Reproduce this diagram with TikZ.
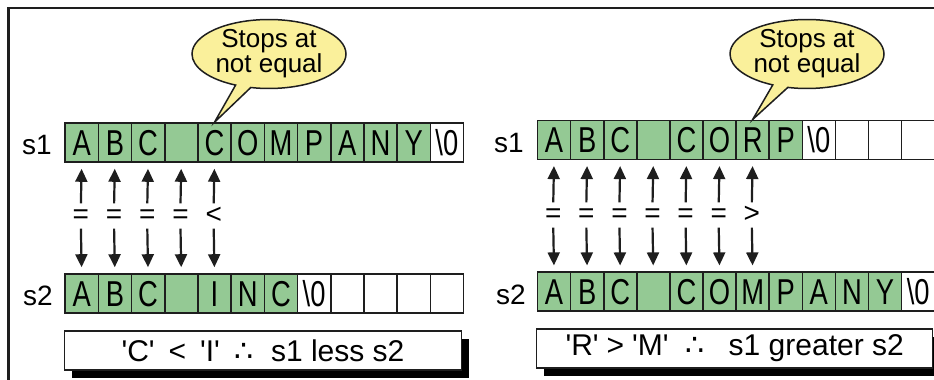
\documentclass[tikz,border=0pt]{standalone}
\usepackage{fontspec}
\setmainfont{Liberation Sans}
\newfontfamily\cellfont[FakeStretch=0.76]{Liberation Sans}
\newfontfamily\symfont{DejaVu Sans}
\usetikzlibrary{shapes.callouts,shadows,arrows.meta,calc}
\definecolor{cellgreen}{RGB}{148,201,148}
\definecolor{bubbleyellow}{RGB}{250,240,155}
\definecolor{ink}{RGB}{30,30,30}
\newcommand\nulchar{\textbackslash 0}
\newcommand\cellblank{}
\newcommand\q{\textquotesingle}
\begin{document}
\begin{tikzpicture}[x=1pt,y=-1pt,
  cell/.style={draw=ink,line width=1.6pt,minimum width=33.2pt,minimum height=39pt,
    inner sep=0pt,text height=25.5pt,text depth=0pt,anchor=west,
    font=\cellfont\fontsize{36}{36}\selectfont},
  full/.style={cell,fill=cellgreen},
  empty/.style={cell,fill=white},
  lbl/.style={inner sep=0pt,font=\fontsize{28}{28}\selectfont},
  cmp/.style={inner sep=0pt,minimum height=25pt,text height=14pt,text depth=0pt,
    font=\fontsize{28}{28}\selectfont},
  arr/.style={draw=ink,line width=2.2pt,-{Triangle[length=13pt,width=12pt]},shorten >=6pt},
  bubble/.style={ellipse callout,draw=ink,line width=1.5pt,fill=bubbleyellow,
    minimum width=154pt,minimum height=68pt,inner sep=0pt,align=center,
    callout pointer arc=12,font=\fontsize{26}{24}\selectfont},
  resultbox/.style={draw=ink,line width=1.5pt,fill=white,minimum height=39pt,inner sep=0pt,
    font=\fontsize{30}{30}\selectfont,
    drop shadow={shadow xshift=7.5pt,shadow yshift=-7.5pt,fill=black,opacity=1}}
]
\useasboundingbox (0,0) rectangle (934,380);
\fill[white] (0,0) rectangle (934,380);

% outer frame
\coordinate (fbl) at (8.7,381);
\coordinate (ftl) at (8.7,8);
\coordinate (ftr) at (935,8);
\draw[ink,line width=2.5pt] (fbl) -- (ftl) -- (ftr);

% ---------------- left panel ----------------
\node[lbl] (Ls1) at (37,145) {s1};
\node[lbl] (Ls2) at (38,295.5) {s2};
\foreach \t/\s [count=\i] in {A/full,B/full,C/full,\cellblank/full,C/full,O/full,M/full,P/full,A/full,N/full,Y/full,\nulchar/empty}
  \node[\s] (L1-\i) at ({64.3+33.2*(\i-1)},142.5) {\t};
\foreach \t/\s [count=\i] in {A/full,B/full,C/full,\cellblank/full,I/full,N/full,C/full,\nulchar/empty,\cellblank/empty,\cellblank/empty,\cellblank/empty,\cellblank/empty}
  \node[\s] (L2-\i) at ({64.3+33.2*(\i-1)},293.5) {\t};
\foreach \c [count=\i] in {=,=,=,=,<}{
  \node[cmp] (Lc\i) at ({64.3+33.2*(\i-0.5)},216) {\c};
  \draw[arr] (Lc\i.north) -- (L1-\i.south);
  \draw[arr] (Lc\i.south) -- (L2-\i.north);
}
\node[bubble,callout absolute pointer={(L1-5.north)}] (Lcall) at (269,54) {Stops at\\not equal};
\node[resultbox,minimum width=397.4pt] (Lres) at (263,350.5)
  {\q C\q\hspace{14pt}<\hspace{14pt}\q I\q\hspace{15pt}{\symfont ∴}\hspace{17pt}s1 less s2};

% ---------------- right panel ----------------
\node[lbl] (Rs1) at (509,143) {s1};
\node[lbl] (Rs2) at (511,295) {s2};
\foreach \t/\s [count=\i] in {A/full,B/full,C/full,\cellblank/full,C/full,O/full,R/full,P/full,\nulchar/empty,\cellblank/empty,\cellblank/empty,\cellblank/empty}
  \node[\s,minimum width=33.1pt] (R1-\i) at ({536.7+33.1*(\i-1)},139.8) {\t};
\foreach \t/\s [count=\i] in {A/full,B/full,C/full,\cellblank/full,C/full,O/full,M/full,P/full,A/full,N/full,Y/full,\nulchar/empty}
  \node[\s,minimum width=33.1pt] (R2-\i) at ({536.7+33.1*(\i-1)},291.7) {\t};
\foreach \c [count=\i] in {=,=,=,=,=,=,>}{
  \node[cmp] (Rc\i) at ({536.7+33.1*(\i-0.5)},215) {\c};
  \draw[arr] (Rc\i.north) -- (R1-\i.south);
  \draw[arr] (Rc\i.south) -- (R2-\i.north);
}
\node[bubble,callout absolute pointer={(R1-7.north)}] (Rcall) at (807,54) {Stops at\\not equal};
\node[resultbox,minimum width=396pt] (Rres) at (734.7,348.5)
  {\q R\q\hspace{8pt}>\hspace{8pt}\q M\q\hspace{17pt}{\symfont ∴}\hspace{24pt}s1 greater s2};
\end{tikzpicture}
\end{document}
